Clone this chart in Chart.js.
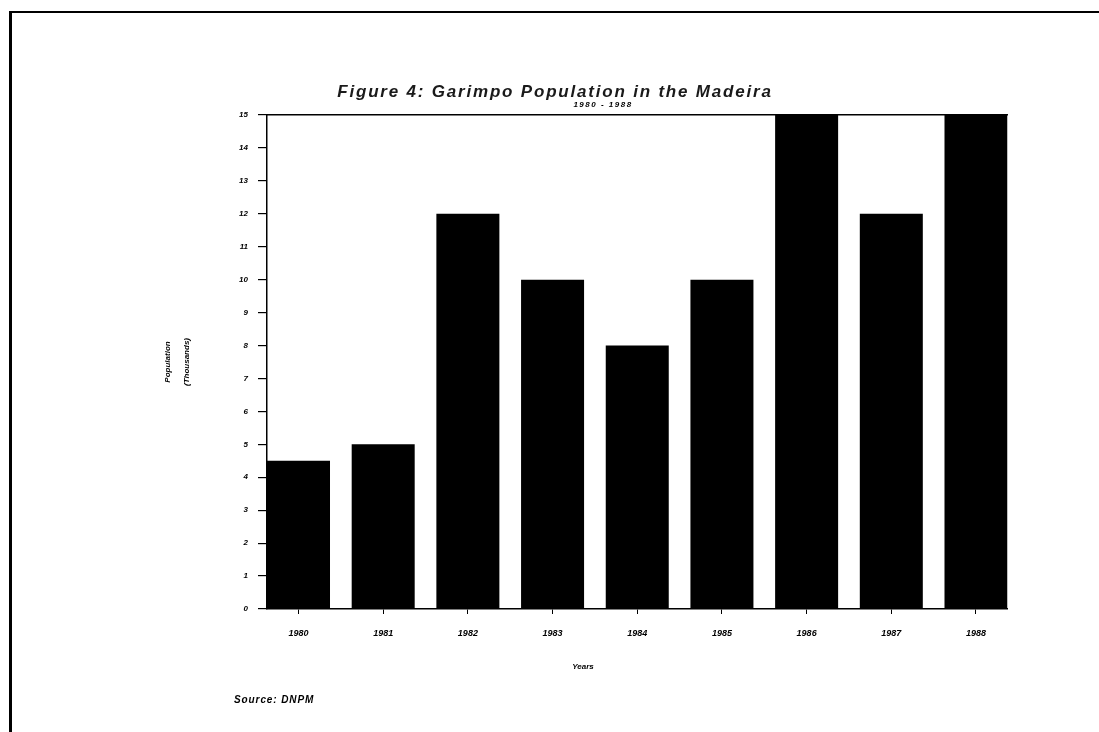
<!DOCTYPE html>
<html>
<head>
<meta charset="utf-8">
<script src="https://cdn.jsdelivr.net/npm/chart.js@4.4.1/dist/chart.umd.min.js"></script>
<style>
  html, body { margin: 0; padding: 0; background: #fff; }
  #wrap { position: relative; width: 1099px; height: 732px; overflow: hidden; background: #fff; }
  #frame { position: absolute; left: 9px; top: 11px; width: 1200px; height: 800px;
           border-left: 3px solid #000; border-top: 2px solid #000; }
  #chartBox { position: absolute; left: 0; top: 0; width: 1099px; height: 732px; }
  .txt { position: absolute; font-family: "Liberation Sans", Arial, sans-serif; font-weight: bold;
         font-style: italic; color: #000; white-space: nowrap; }
  #title { left: 0; width: 1110px; text-align: center; top: 82px; height: 20px; line-height: 20px;
           font-size: 17px; letter-spacing: 1.8px; color: #1a1a1a; }
  #subtitle { left: 0; width: 1206px; text-align: center; top: 100px; height: 10px; line-height: 10px;
              font-size: 8px; letter-spacing: 1.5px; }
  #xtitle { left: 0; width: 1166px; text-align: center; top: 662px; height: 10px; line-height: 10px;
            font-size: 8px; }
  #source { left: 234px; top: 694px; height: 12px; line-height: 12px; font-size: 10px; letter-spacing: 0.9px; }
</style>
</head>
<body>
<div id="wrap">
  <div id="frame"></div>
  <div id="chartBox"><canvas id="c" width="1099" height="732"></canvas></div>
  <div class="txt" id="title">Figure 4: Garimpo Population in the Madeira</div>
  <div class="txt" id="subtitle">1980 - 1988</div>
  <div class="txt" id="xtitle">Years</div>
  <div class="txt" id="source">Source: DNPM</div>
</div>
<script>
// Data
const years = [1980, 1981, 1982, 1983, 1984, 1985, 1986, 1987, 1988];
const population = [4.5, 5, 12, 10, 8, 10, 15, 12, 15]; // thousands
const yTickMax = 15;
const yAxisTitle = ["Population", "(Thousands)"];

Chart.defaults.font.family = '"Liberation Sans", Arial, sans-serif';
Chart.defaults.color = '#000';

const xMin = 1979.628, xMax = 1988.372;
const tickFont = { size: 8, weight: 'bold', style: 'italic' };

new Chart(document.getElementById('c'), {
  type: 'bar',
  data: {
    datasets: [{
      data: years.map((y, i) => ({ x: y, y: population[i] })),
      backgroundColor: '#000',
      borderWidth: 0,
      barPercentage: 0.744,
      categoryPercentage: 1.0
    }]
  },
  options: {
    responsive: false,
    animation: false,
    layout: { padding: { left: 158.5, right: 91.5, top: 105, bottom: 83 } },
    plugins: { legend: { display: false }, tooltip: { enabled: false }, title: { display: false } },
    scales: {
      x: {
        type: 'linear',
        position: 'bottom',
        offset: false,
        min: xMin, max: xMax,
        afterBuildTicks: (s) => { s.ticks = years.map(v => ({ value: v })); },
        afterFit: (s) => { s.height = 40; },
        ticks: {
          font: { size: 9, weight: 'bold', style: 'italic' },
          padding: 14,
          maxRotation: 0,
          autoSkip: false,
          callback: (v) => String(v)
        },
        grid: { display: true, offset: false, drawOnChartArea: false, drawTicks: true, tickLength: 5, color: '#000', lineWidth: 1 },
        border: { display: true, color: '#000', width: 1.5 }
      },
      x2: {
        type: 'linear',
        axis: 'x',
        position: 'top',
        offset: false,
        min: xMin, max: xMax,
        afterFit: (s) => { s.height = 10; },
        ticks: { display: false },
        grid: { display: false, offset: false, drawTicks: false },
        border: { display: true, color: '#000', width: 1.5 }
      },
      y: {
        type: 'linear',
        position: 'left',
        min: 0, max: yTickMax,
        afterFit: (s) => { s.width = 108.5; },
        ticks: { stepSize: 1, font: tickFont, padding: 10 },
        grid: { display: true, drawOnChartArea: false, drawTicks: true, tickLength: 9, color: '#000', lineWidth: 1.2 },
        border: { display: true, color: '#000', width: 1.5 },
        title: {
          display: true,
          text: yAxisTitle,
          font: { size: 8, weight: 'bold', style: 'italic', lineHeight: '19px' },
          padding: { top: 0, bottom: 0 }
        }
      }
    }
  }
});
</script>
</body>
</html>
